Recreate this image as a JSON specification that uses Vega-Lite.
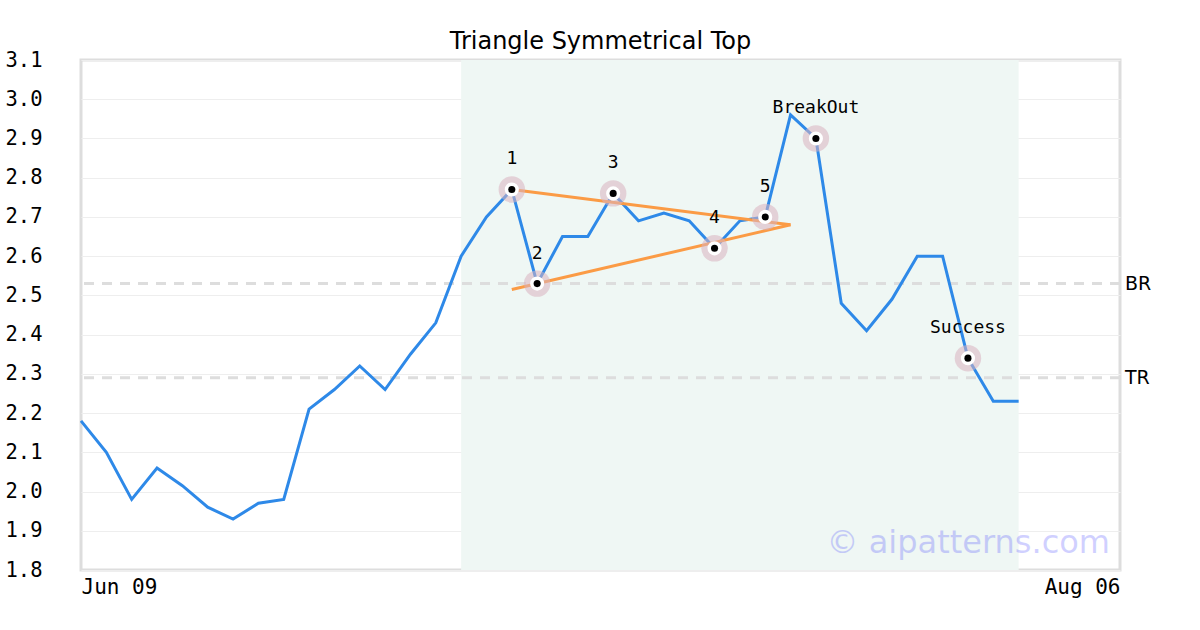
{
  "$schema": "https://vega.github.io/schema/vega-lite/v6.json",
  "autosize": {"type": "none"},
  "padding": {"left": 81, "top": 60, "right": 80, "bottom": 60},
  "width": 1039,
  "height": 510,
  "background": "white",
  "config": {
    "view": {"stroke": "#dddddd", "strokeWidth": 3},
    "font": "DejaVu Sans"
  },
  "title": {
    "text": "Triangle Symmetrical Top",
    "font": "DejaVu Sans",
    "fontSize": 24,
    "fontWeight": "normal",
    "color": "#000000",
    "anchor": "middle",
    "offset": -4
  },
  "datasets": {
    "price": [
      {"i": 0, "v": 2.18}, {"i": 1, "v": 2.10}, {"i": 2, "v": 1.98}, {"i": 3, "v": 2.06},
      {"i": 4, "v": 2.015}, {"i": 5, "v": 1.96}, {"i": 6, "v": 1.93}, {"i": 7, "v": 1.97},
      {"i": 8, "v": 1.98}, {"i": 9, "v": 2.21}, {"i": 10, "v": 2.26}, {"i": 11, "v": 2.32},
      {"i": 12, "v": 2.26}, {"i": 13, "v": 2.35}, {"i": 14, "v": 2.43}, {"i": 15, "v": 2.60},
      {"i": 16, "v": 2.70}, {"i": 17, "v": 2.77}, {"i": 18, "v": 2.53}, {"i": 19, "v": 2.65},
      {"i": 20, "v": 2.65}, {"i": 21, "v": 2.76}, {"i": 22, "v": 2.69}, {"i": 23, "v": 2.71},
      {"i": 24, "v": 2.69}, {"i": 25, "v": 2.62}, {"i": 26, "v": 2.69}, {"i": 27, "v": 2.70},
      {"i": 28, "v": 2.96}, {"i": 29, "v": 2.90}, {"i": 30, "v": 2.48}, {"i": 31, "v": 2.41},
      {"i": 32, "v": 2.49}, {"i": 33, "v": 2.60}, {"i": 34, "v": 2.60}, {"i": 35, "v": 2.34},
      {"i": 36, "v": 2.23}, {"i": 37, "v": 2.23}
    ],
    "marks": [
      {"i": 17, "v": 2.77, "label": "1"},
      {"i": 18, "v": 2.53, "label": "2"},
      {"i": 21, "v": 2.76, "label": "3"},
      {"i": 25, "v": 2.62, "label": "4"},
      {"i": 27, "v": 2.70, "label": "5"},
      {"i": 29, "v": 2.90, "label": "BreakOut"},
      {"i": 35, "v": 2.34, "label": "Success"}
    ],
    "trend": [
      {"line": "upper", "i": 17, "v": 2.77},
      {"line": "upper", "i": 28, "v": 2.68},
      {"line": "lower", "i": 17, "v": 2.515},
      {"line": "lower", "i": 28, "v": 2.68}
    ],
    "levels": [
      {"name": "BR", "v": 2.53},
      {"name": "TR", "v": 2.29}
    ],
    "zone": [{"start": 15, "end": 37}],
    "wm": [{"text": "© aipatterns.com", "i": 41, "v": 1.87}]
  },
  "encoding": {
    "x": {
      "field": "i",
      "type": "quantitative",
      "scale": {"domain": [0, 41], "nice": false, "zero": false},
      "axis": {
        "title": null,
        "values": [0, 41],
        "labelExpr": "datum.value == 0 ? 'Jun 09' : 'Aug 06'",
        "labelFlush": true,
        "labelFont": "DejaVu Sans Mono",
        "labelFontSize": 21,
        "labelColor": "#000000",
        "labelPadding": 6,
        "ticks": false,
        "domain": false,
        "grid": false
      }
    },
    "y": {
      "field": "v",
      "type": "quantitative",
      "scale": {"domain": [1.8, 3.1], "nice": false, "zero": false},
      "axis": {
        "title": null,
        "values": [1.8, 1.9, 2.0, 2.1, 2.2, 2.3, 2.4, 2.5, 2.6, 2.7, 2.8, 2.9, 3.0, 3.1],
        "format": ".1f",
        "labelFont": "DejaVu Sans Mono",
        "labelFontSize": 20.5,
        "labelColor": "#000000",
        "labelPadding": 39,
        "ticks": false,
        "domain": false,
        "grid": true,
        "gridColor": "#eeeeee",
        "gridWidth": 1
      }
    }
  },
  "layer": [
    {
      "data": {"name": "zone"},
      "mark": {"type": "rect", "color": "#eff7f4"},
      "encoding": {
        "x": {"field": "start", "type": "quantitative"},
        "x2": {"field": "end"},
        "y": null
      }
    },
    {
      "data": {"name": "levels"},
      "mark": {"type": "rule", "color": "#dddddd", "strokeWidth": 3, "strokeDash": [10, 8]},
      "encoding": {"x": null}
    },
    {
      "data": {"name": "price"},
      "mark": {"type": "line", "color": "#2e89e8", "strokeWidth": 3}
    },
    {
      "data": {"name": "trend"},
      "mark": {"type": "line", "color": "#fb9b45", "strokeWidth": 3},
      "encoding": {"detail": {"field": "line"}}
    },
    {
      "data": {"name": "marks"},
      "mark": {"type": "circle", "color": "#d9b3bf", "opacity": 0.55, "size": 700}
    },
    {
      "data": {"name": "marks"},
      "mark": {"type": "circle", "color": "#ffffff", "opacity": 1, "size": 200}
    },
    {
      "data": {"name": "marks"},
      "mark": {"type": "circle", "color": "#000000", "opacity": 1, "size": 50}
    },
    {
      "data": {"name": "marks"},
      "mark": {"type": "text", "dy": -30, "baseline": "middle", "align": "center", "font": "DejaVu Sans Mono", "fontSize": 18, "color": "#000000"},
      "encoding": {"text": {"field": "label"}}
    },
    {
      "data": {"name": "wm"},
      "mark": {"type": "text", "align": "right", "baseline": "middle", "dx": -10, "font": "DejaVu Sans", "fontSize": 32, "color": "#0000ff", "opacity": 0.18},
      "encoding": {"text": {"field": "text"}}
    },
    {
      "data": {"name": "levels"},
      "mark": {"type": "text", "align": "left", "baseline": "middle", "dx": 5, "fontSize": 19, "font": "DejaVu Sans", "color": "#000000", "opacity": 1},
      "encoding": {
        "x": {"value": "width"},
        "text": {"field": "name", "type": "nominal"}
      }
    }
  ]
}
